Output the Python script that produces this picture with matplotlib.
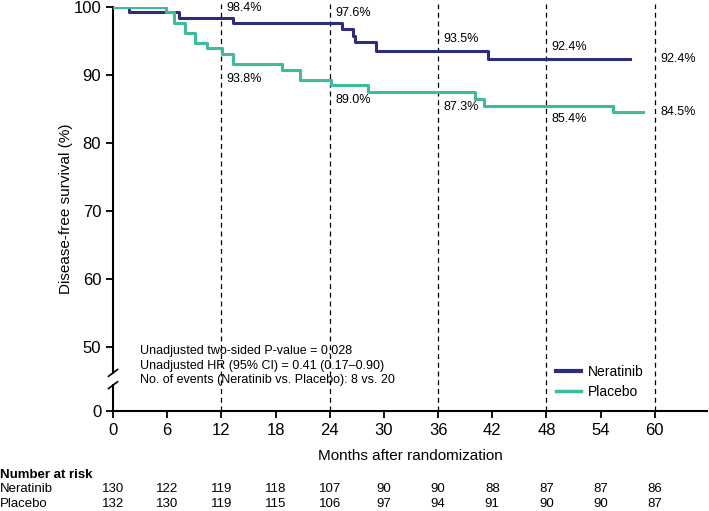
import matplotlib
matplotlib.use("Agg")
import matplotlib.pyplot as plt
from matplotlib.lines import Line2D

plt.rcParams['font.family'] = ['Liberation Sans', 'DejaVu Sans']

# Kaplan-Meier steps (months, survival %)
ner_t = [0, 1.8, 7.3, 13.3, 25.4, 26.6, 26.8, 29.1, 41.5, 57.3]
ner_s = [100, 99.2, 98.4, 97.6, 96.7, 95.8, 94.9, 93.5, 92.4, 92.4]
pla_t = [0, 5.9, 6.7, 8.0, 9.1, 10.4, 12.1, 13.3, 18.7, 20.7, 24.1, 28.2, 40.1, 41.1, 55.4, 58.7]
pla_s = [100, 99.2, 97.7, 96.2, 94.7, 93.9, 93.1, 91.6, 90.8, 89.3, 88.5, 87.5, 86.5, 85.4, 84.5, 84.5]

landmarks = [12, 24, 36, 48, 60]
ner_labels = ["98.4%", "97.6%", "93.5%", "92.4%", "92.4%"]
pla_labels = ["93.8%", "89.0%", "87.3%", "85.4%", "84.5%"]

risk_months = [0, 6, 12, 18, 24, 30, 36, 42, 48, 54, 60]
ner_risk = [130, 122, 119, 118, 107, 90, 90, 88, 87, 87, 86]
pla_risk = [132, 130, 119, 115, 106, 97, 94, 91, 90, 90, 87]

navy = "#2f2c7e"
teal = "#3dbb9c"

YZERO = 40.6  # where "0" sits below the axis break

fig = plt.figure(figsize=(7.09, 5.11), dpi=100)
ax = fig.add_axes([0.1594, 0.1957, 0.838, 0.7906])

for m in landmarks:
    ax.plot([m, m], [YZERO, 100.5], color="black", lw=0.9, ls=(0, (4, 3)), clip_on=False, zorder=1)

ax.step(ner_t, ner_s, where="post", color=navy, lw=2.2, label="Neratinib", zorder=3)
ax.step(pla_t, pla_s, where="post", color=teal, lw=2.2, label="Placebo", zorder=3)

ax.set_xlim(0, 65.8)
ax.set_ylim(YZERO, 100)
ax.set_xticks(risk_months)
ax.set_yticks([YZERO, 50, 60, 70, 80, 90, 100])
ax.set_yticklabels(["0", "50", "60", "70", "80", "90", "100"])
ax.tick_params(labelsize=12, width=1.3, length=5, direction="out")
for s in ["top", "right"]:
    ax.spines[s].set_visible(False)
for s in ["left", "bottom"]:
    ax.spines[s].set_linewidth(1.5)
ax.spines["left"].set_bounds(46.2, 100)

# lower piece of the y axis and the break marks
ax.plot([0, 0], [YZERO, 44.4], color="black", lw=1.5, clip_on=False)
for yb in [44.4, 46.2]:
    ax.plot([-0.5, 0.5], [yb - 0.5, yb + 0.5], color="black", lw=1.2, clip_on=False)

ax.set_ylabel("Disease-free survival (%)", fontsize=11, labelpad=0)
ax.set_xlabel("Months after randomization", fontsize=11, labelpad=8)

# landmark labels
for m, lab, dy in zip(landmarks, ner_labels, [99.85, 99.1, 95.3, 94.1, 92.35]):
    ax.text(m + 0.6, dy, lab, fontsize=9, va="center", ha="left")
for m, lab, dy in zip(landmarks, pla_labels, [89.4, 86.3, 85.3, 83.5, 84.6]):
    ax.text(m + 0.6, dy, lab, fontsize=9, va="center", ha="left")

stats = ("Unadjusted two-sided P-value = 0.028\n"
         "Unadjusted HR (95% CI) = 0.41 (0.17\u20130.90)\n"
         "No. of events (Neratinib vs. Placebo): 8 vs. 20")
ax.text(3.0, 50.3, stats, fontsize=9, va="top", ha="left", linespacing=1.3)

handles = [Line2D([], [], color=navy, lw=3), Line2D([], [], color=teal, lw=2.5)]
ax.legend(handles, ["Neratinib", "Placebo"], loc="lower left", bbox_to_anchor=(0.724, -0.002),
          frameon=False, fontsize=10, handlelength=1.8, handletextpad=0.5, labelspacing=0.45)

# number at risk table
fig.text(0.0, 1 - 475 / 511, "Number at risk", fontsize=9.5, fontweight="bold", va="center")
for row, name, vals in [(489, "Neratinib", ner_risk), (504, "Placebo", pla_risk)]:
    fig.text(0.0, 1 - row / 511, name, fontsize=9.5, va="center")
    for m, v in zip(risk_months, vals):
        x = ax.transData.transform((m, 50))[0] / fig.bbox.width
        fig.text(x, 1 - row / 511, str(v), fontsize=9.5, va="center", ha="center")

fig.savefig("out.png", dpi=100)
